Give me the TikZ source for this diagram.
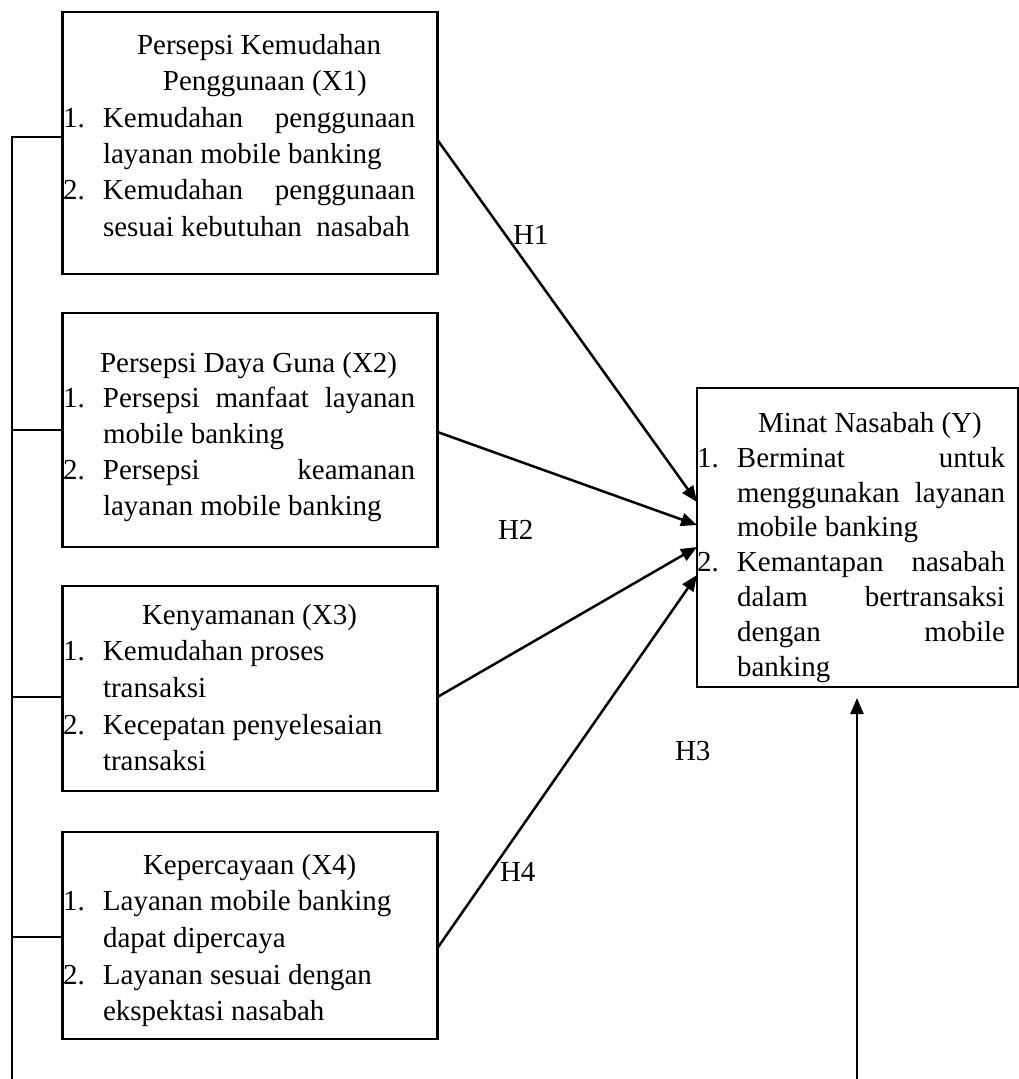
\documentclass[tikz,border=0pt]{standalone}
\usepackage{fontspec}
\setmainfont{Liberation Serif}
\usetikzlibrary{arrows.meta}
\begin{document}
\begin{tikzpicture}[x=1pt,y=-1pt,
  box/.style={draw, line width=2.5pt, rectangle, inner sep=0pt, outer sep=0pt, anchor=north west},
  txt/.style={anchor=base west, inner sep=0pt, outer sep=0pt},
  arr/.style={line width=2.5pt, -{Triangle[length=16pt,width=13pt]}},
  thinline/.style={line width=1.3pt},
  hlab/.style={anchor=base west, inner sep=0pt, outer sep=0pt, font=\fontsize{29}{34}\selectfont}
]
\useasboundingbox (0,0) rectangle (1019,1079);

% boxes
\node[box, minimum width=375pt, minimum height=262pt] (x1) at (62.5,12) {};
\node[box, minimum width=375pt, minimum height=234pt] (x2) at (62.5,313) {};
\node[box, minimum width=375pt, minimum height=205pt] (x3) at (62.5,586) {};
\node[box, minimum width=375pt, minimum height=207pt] (x4) at (62.5,832) {};
\node[box, minimum width=321pt, minimum height=299pt] (y) at (697,388) {};

% texts
\node[txt] (x1t) at (63,54.5) {\parbox[t]{360pt}{\fontsize{29}{36.3}\selectfont
\hspace*{74pt}Persepsi Kemudahan\\
\hspace*{100pt}Penggunaan (X1)\\
\makebox[40pt][l]{1.}\makebox[312pt][l]{Kemudahan\hfill penggunaan}\\
\hspace*{40pt}layanan mobile banking\\
\makebox[40pt][l]{2.}\makebox[312pt][l]{Kemudahan\hfill penggunaan}\\
\hspace*{40pt}sesuai kebutuhan\ \ nasabah}};

\node[txt] (x2t) at (63,372) {\parbox[t]{360pt}{\fontsize{29}{35.75}\selectfont
\hspace*{37pt}Persepsi Daya Guna (X2)\\
\makebox[40pt][l]{1.}\makebox[312pt][l]{Persepsi\hfill manfaat\hfill layanan}\\
\hspace*{40pt}mobile banking\\
\makebox[40pt][l]{2.}\makebox[312pt][l]{Persepsi\hfill keamanan}\\
\hspace*{40pt}layanan mobile banking}};

\node[txt] (x3t) at (63,624) {\parbox[t]{360pt}{\fontsize{29}{36.7}\selectfont
\hspace*{79pt}Kenyamanan (X3)\\
\makebox[40pt][l]{1.}Kemudahan proses\\
\hspace*{40pt}transaksi\\
\makebox[40pt][l]{2.}Kecepatan penyelesaian\\
\hspace*{40pt}transaksi}};

\node[txt] (x4t) at (63,874) {\parbox[t]{360pt}{\fontsize{29}{36.7}\selectfont
\hspace*{80pt}Kepercayaan (X4)\\
\makebox[40pt][l]{1.}Layanan mobile banking\\
\hspace*{40pt}dapat dipercaya\\
\makebox[40pt][l]{2.}Layanan sesuai dengan\\
\hspace*{40pt}ekspektasi nasabah}};

\node[txt] (yt) at (697,432.5) {\parbox[t]{330pt}{\fontsize{29}{34.8}\selectfont
\hspace*{61pt}Minat Nasabah (Y)\\
\makebox[40pt][l]{1.}\makebox[268pt][l]{Berminat\hfill untuk}\\
\hspace*{40pt}\makebox[268pt][l]{menggunakan\hfill layanan}\\
\hspace*{40pt}mobile banking\\
\makebox[40pt][l]{2.}\makebox[268pt][l]{Kemantapan\hfill nasabah}\\
\hspace*{40pt}\makebox[268pt][l]{dalam\hfill bertransaksi}\\
\hspace*{40pt}\makebox[268pt][l]{dengan\hfill mobile}\\
\hspace*{40pt}banking}};

% hypothesis labels
\node[hlab] (h1) at (513,244) {H1};
\node[hlab] (h2) at (498,539) {H2};
\node[hlab] (h3) at (675,760) {H3};
\node[hlab] (h4) at (500,881) {H4};

% left bracket line
\coordinate (lb) at (12,1079);
\draw[thinline] (lb) |- ([yshift=6pt]x1.west);
\draw[thinline] (x2.west) -- (x2.west -| lb);
\draw[thinline] ([yshift=-8.5pt]x3.west) -- ([yshift=-8.5pt]x3.west -| lb);
\draw[thinline] ([yshift=-1.5pt]x4.west) -- ([yshift=-1.5pt]x4.west -| lb);

% arrows
\draw[arr] ([yshift=3pt]x1.east) -- ([yshift=35.5pt]y.west);
\draw[arr] ([yshift=-2pt]x2.east) -- ([yshift=12.5pt]y.west);
\draw[arr] ([yshift=-8.5pt]x3.east) -- ([yshift=-9.5pt]y.west);
\draw[arr] ([yshift=-12.5pt]x4.east) -- ([yshift=-37.5pt]y.west);

\coordinate (ub) at (857,1079);
\path (y.south -| ub) coordinate (uy);
\draw[arr] (ub) -- ([yshift=-11pt]uy);
\end{tikzpicture}
\end{document}
